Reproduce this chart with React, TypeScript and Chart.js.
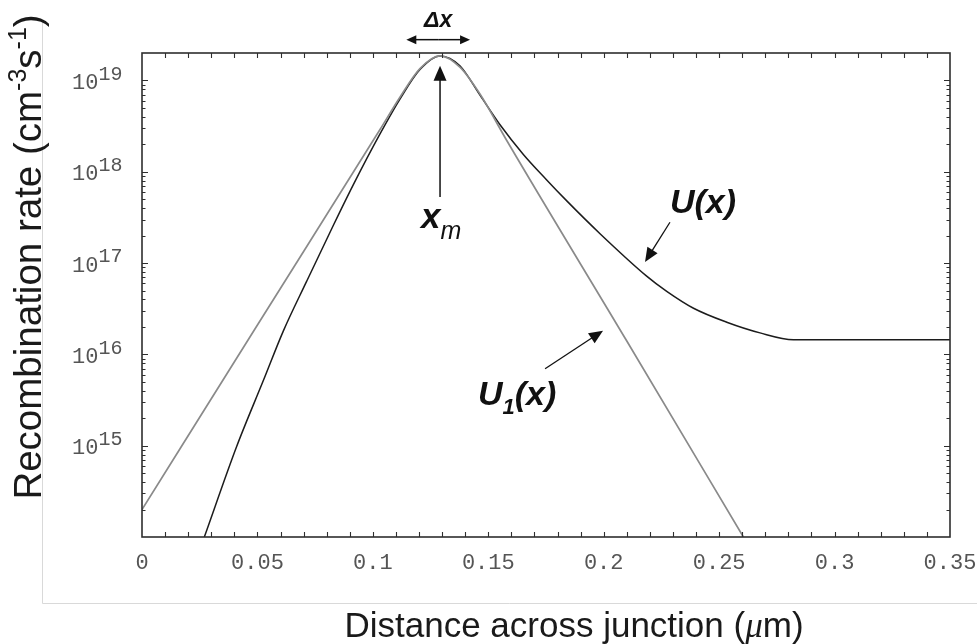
import { useEffect, useRef } from 'react';
import { Chart, registerables } from 'chart.js';

Chart.register(...registerables);

// U(x): recombination rate across the junction (cm^-3 s^-1)
const uDistance = [0.027, 0.041, 0.0526, 0.0612, 0.0713, 0.0829, 0.0915, 0.1031, 0.1118, 0.1204, 0.1291, 0.1377, 0.1464, 0.155, 0.1652, 0.175, 0.184, 0.1984, 0.2186, 0.2273, 0.2389, 0.2533, 0.2677, 0.2822, 0.35];
const uRate = [1.0e14, 9.8e14, 5.2e15, 1.8e16, 6.3e16, 2.6e17, 7.2e17, 2.6e18, 6.3e18, 1.32e19, 1.86e19, 1.45e19, 6.9e18, 3.3e18, 1.55e18, 8.3e17, 4.8e17, 2.1e17, 7.2e16, 4.9e16, 3.2e16, 2.25e16, 1.72e16, 1.45e16, 1.45e16];

// U1(x): approximation around the maximum
const u1Distance = [0, 0.05, 0.1031, 0.1118, 0.1204, 0.1291, 0.1377, 0.1464, 0.158, 0.21, 0.2605];
const u1Rate = [2.0e14, 2.1e16, 2.9e18, 6.6e18, 1.35e19, 1.86e19, 1.4e19, 7.1e18, 2.2e18, 1.4e16, 1.0e14];

// Axes
const xMin = 0;
const xMax = 0.35;
const yMin = 1e14;
const yMax = 2e19;
const xTickValues = [0, 0.05, 0.1, 0.15, 0.2, 0.25, 0.3, 0.35];
const xTickLabels = ['0', '0.05', '0.1', '0.15', '0.2', '0.25', '0.3', '0.35'];
const xMinorStep = 0.01;
const yDecadeExponents = [15, 16, 17, 18, 19];

// Annotations (data coordinates)
const xmPosition = 0.1291;
const xmArrowRates = [5.3e17, 1.45e19];
const deltaXRange = [0.1145, 0.1421];
const deltaXArrowRate = 2.8e19;
const deltaXLabelRate = 3.9e19;
const xmLabelPoint = [0.1209, 2.4e17];
const uLabelPoint = [0.2287, 3.56e17];
const uArrow = [[0.2287, 2.8e17], [0.2179, 1.03e17]];
const u1LabelPoint = [0.1455, 2.8e15];
const u1Arrow = [[0.1746, 6.95e15], [0.1997, 1.82e16]];

const MONO = '"Liberation Mono", "Courier New", monospace';
const SANS = '"Liberation Sans", Arial, sans-serif';
const SERIF = '"Liberation Serif", "Times New Roman", serif';

type Seg = { text: string; font: string; rise?: number };

function drawRich(ctx: CanvasRenderingContext2D, segs: Seg[], x: number, y: number, align: 'left' | 'center') {
  ctx.textAlign = 'left';
  ctx.textBaseline = 'alphabetic';
  const widths = segs.map((s) => {
    ctx.font = s.font;
    return ctx.measureText(s.text).width;
  });
  const total = widths.reduce((a, b) => a + b, 0);
  let cx = align === 'center' ? x - total / 2 : x;
  segs.forEach((s, i) => {
    ctx.font = s.font;
    ctx.fillText(s.text, cx, y - (s.rise || 0));
    cx += widths[i];
  });
}

function arrow(ctx: CanvasRenderingContext2D, x1: number, y1: number, x2: number, y2: number, len: number, half: number) {
  const a = Math.atan2(y2 - y1, x2 - x1);
  const bx = x2 - len * Math.cos(a);
  const by = y2 - len * Math.sin(a);
  ctx.beginPath();
  ctx.moveTo(x1, y1);
  ctx.lineTo(bx + Math.cos(a), by + Math.sin(a));
  ctx.stroke();
  ctx.beginPath();
  ctx.moveTo(x2, y2);
  ctx.lineTo(bx + half * Math.sin(a), by - half * Math.cos(a));
  ctx.lineTo(bx - half * Math.sin(a), by + half * Math.cos(a));
  ctx.closePath();
  ctx.fill();
}

const decorPlugin = {
  id: 'decor',
  beforeDraw(chart: any) {
    const ctx: CanvasRenderingContext2D = chart.ctx;
    ctx.save();
    ctx.fillStyle = '#ffffff';
    ctx.fillRect(0, 0, chart.width, chart.height);
    // faint page frame
    ctx.strokeStyle = '#d9d9d9';
    ctx.lineWidth = 1;
    ctx.beginPath();
    ctx.moveTo(42.5, 20);
    ctx.lineTo(42.5, 603.5);
    ctx.lineTo(chart.width, 603.5);
    ctx.stroke();
    ctx.restore();
  },
  afterDatasetsDraw(chart: any) {
    const ctx: CanvasRenderingContext2D = chart.ctx;
    const { left, right, top, bottom } = chart.chartArea;
    const xs = chart.scales.x;
    const ys = chart.scales.y;
    ctx.save();
    ctx.strokeStyle = '#2e2e2e';
    ctx.lineWidth = 1.6;
    ctx.strokeRect(left, top, right - left, bottom - top);

    // x ticks, bottom and top, pointing inward
    ctx.lineWidth = 1.1;
    ctx.beginPath();
    const nX = Math.round((xMax - xMin) / xMinorStep);
    for (let i = 1; i < nX; i++) {
      const px = Math.round(xs.getPixelForValue(xMin + i * xMinorStep)) + 0.5;
      ctx.moveTo(px, bottom);
      ctx.lineTo(px, bottom - 5);
      ctx.moveTo(px, top);
      ctx.lineTo(px, top + 5);
    }
    // log y ticks, left and right, pointing inward
    for (let e = 14; e <= 19; e++) {
      for (let k = 1; k <= 9; k++) {
        const v = k * Math.pow(10, e);
        if (v <= yMin || v >= yMax) continue;
        const py = Math.round(ys.getPixelForValue(v)) + 0.5;
        const len = k === 1 ? 6 : 3.5;
        ctx.moveTo(left, py);
        ctx.lineTo(left + len, py);
        ctx.moveTo(right, py);
        ctx.lineTo(right - len, py);
      }
    }
    ctx.stroke();

    // tick labels
    ctx.fillStyle = '#555555';
    ctx.textBaseline = 'alphabetic';
    xTickValues.forEach((v, i) => {
      ctx.font = `22px ${MONO}`;
      ctx.textAlign = 'center';
      ctx.fillText(xTickLabels[i], xs.getPixelForValue(v), 569);
    });
    yDecadeExponents.forEach((e) => {
      const py = ys.getPixelForValue(Math.pow(10, e));
      drawRich(ctx, [
        { text: '10', font: `22px ${MONO}` },
        { text: String(e), font: `20px ${MONO}`, rise: 9.3 },
      ], 72, py + 8.6, 'left');
    });
    ctx.restore();
  },
  afterDraw(chart: any) {
    const ctx: CanvasRenderingContext2D = chart.ctx;
    const xs = chart.scales.x;
    const ys = chart.scales.y;
    const px = (v: number) => xs.getPixelForValue(v);
    const py = (v: number) => ys.getPixelForValue(v);
    ctx.save();

    // axis titles
    ctx.fillStyle = '#1a1a1a';
    drawRich(ctx, [
      { text: 'Distance across junction (', font: `35px ${SANS}` },
      { text: 'μ', font: `italic 35px ${SERIF}` },
      { text: 'm)', font: `35px ${SANS}` },
    ], 574, 637, 'center');

    ctx.save();
    ctx.translate(41, 257);
    ctx.rotate(-Math.PI / 2);
    drawRich(ctx, [
      { text: 'Recombination rate (cm', font: `38.5px ${SANS}` },
      { text: '-3', font: `25px ${SANS}`, rise: 15 },
      { text: 's', font: `38.5px ${SANS}` },
      { text: '-1', font: `25px ${SANS}`, rise: 15 },
      { text: ')', font: `38.5px ${SANS}` },
    ], 0, 0, 'center');
    ctx.restore();

    // annotations
    ctx.fillStyle = '#111111';
    ctx.strokeStyle = '#111111';
    ctx.lineWidth = 1.5;

    // Δx double arrow
    const dy = py(deltaXArrowRate);
    const dxa = px(deltaXRange[0]);
    const dxb = px(deltaXRange[1]);
    const mid = (dxa + dxb) / 2;
    arrow(ctx, mid, dy, dxa, dy, 10, 4.5);
    arrow(ctx, mid, dy, dxb, dy, 10, 4.5);
    drawRich(ctx, [{ text: 'Δx', font: `italic bold 23px ${SANS}` }], px((deltaXRange[0] + deltaXRange[1]) / 2), py(deltaXLabelRate), 'center');

    // x_m arrow
    arrow(ctx, px(xmPosition), py(xmArrowRates[0]), px(xmPosition), py(xmArrowRates[1]), 15, 6.5);
    drawRich(ctx, [
      { text: 'x', font: `italic bold 35px ${SANS}` },
      { text: 'm', font: `italic 25px ${SANS}`, rise: -11 },
    ], px(xmLabelPoint[0]), py(xmLabelPoint[1]), 'left');

    // U(x)
    ctx.lineWidth = 1.3;
    arrow(ctx, px(uArrow[0][0]), py(uArrow[0][1]), px(uArrow[1][0]), py(uArrow[1][1]), 14, 6);
    drawRich(ctx, [{ text: 'U(x)', font: `italic bold 34px ${SANS}` }], px(uLabelPoint[0]), py(uLabelPoint[1]), 'left');

    // U1(x)
    arrow(ctx, px(u1Arrow[0][0]), py(u1Arrow[0][1]), px(u1Arrow[1][0]), py(u1Arrow[1][1]), 14, 6);
    drawRich(ctx, [
      { text: 'U', font: `italic bold 34px ${SANS}` },
      { text: '1', font: `italic bold 22px ${SANS}`, rise: -9 },
      { text: '(x)', font: `italic bold 34px ${SANS}` },
    ], px(u1LabelPoint[0]), py(u1LabelPoint[1]), 'left');

    ctx.restore();
  },
};

export default function App() {
  const ref = useRef<HTMLCanvasElement>(null);

  useEffect(() => {
    const canvas = ref.current;
    if (!canvas) return;
    const chart = new Chart(canvas, {
      type: 'line',
      data: {
        datasets: [
          {
            label: 'U1(x)',
            data: u1Distance.map((x, i) => ({ x, y: u1Rate[i] })),
            borderColor: '#8a8a8a',
            borderWidth: 1.7,
            pointRadius: 0,
            fill: false,
            cubicInterpolationMode: 'monotone',
          },
          {
            label: 'U(x)',
            data: uDistance.map((x, i) => ({ x, y: uRate[i] })),
            borderColor: '#1c1c1c',
            borderWidth: 1.5,
            pointRadius: 0,
            fill: false,
            cubicInterpolationMode: 'monotone',
          },
        ],
      },
      options: {
        responsive: false,
        animation: false,
        events: [],
        layout: { padding: { left: 142, top: 53, right: 27, bottom: 107 } },
        plugins: {
          legend: { display: false },
          tooltip: { enabled: false },
          title: { display: false },
        },
        scales: {
          x: { type: 'linear', min: xMin, max: xMax, display: false },
          y: { type: 'logarithmic', min: yMin, max: yMax, display: false },
        },
      },
      plugins: [decorPlugin],
    });
    return () => chart.destroy();
  }, []);

  return (
    <div style={{ position: 'fixed', left: 0, top: 0, width: 977, height: 644, background: '#ffffff' }}>
      <canvas ref={ref} width={977} height={644} style={{ display: 'block' }} />
    </div>
  );
}
